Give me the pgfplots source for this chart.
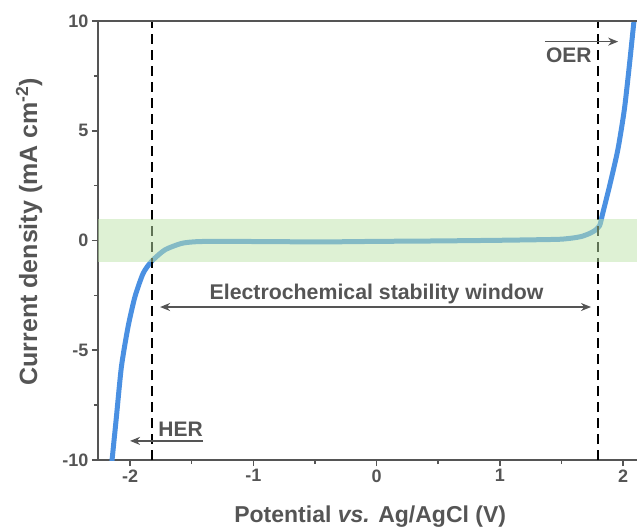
\documentclass[border=0pt]{standalone}
\usepackage{fontspec}
\setmainfont{Liberation Sans}
\usepackage{pgfplots}
\pgfplotsset{compat=1.18}
\usetikzlibrary{arrows.meta}
\definecolor{curveblue}{RGB}{74,144,226}
\definecolor{bandgreen}{RGB}{190,228,170}
\definecolor{axgray}{RGB}{85,85,85}

\begin{document}
\begin{tikzpicture}
\begin{axis}[
    scale only axis, width=539pt, height=439pt,
    xmin=-2.26, xmax=2.113, ymin=-10, ymax=10,
    axis x line*=bottom, axis y line*=left,
    axis line style={axgray, line width=1.6pt, -},
    xtick={-2,-1,0,1,2}, ytick={-10,-5,0,5,10},
    minor tick num=1,
    tick align=outside,
    major tick length=6pt, minor tick length=4pt,
    tick style={axgray, line width=1.6pt},
    /pgf/number format/assume math mode=true,
    ticklabel style={font=\bfseries\fontsize{18}{18}\selectfont, text=axgray},
    xlabel={Potential \textit{vs.} Ag/AgCl (V)},
    ylabel={Current density (mA cm\textsuperscript{-2})},
    xlabel style={at={(axis description cs:0.505,-0.13)}, anchor=center,
        font=\bfseries\fontsize{23}{23}\selectfont, text=axgray},
    ylabel style={at={(axis description cs:-0.128,0.52)}, anchor=center,
        font=\bfseries\fontsize{25}{25}\selectfont, text=axgray},
    ]
% J-V sweep
\addplot[curveblue, line width=5pt, smooth, tension=0.4] coordinates {
    (-2.155,-10.4) (-2.146,-10) (-2.11,-8.0) (-2.07,-5.75) (-2.016,-3.93)
    (-1.96,-2.56) (-1.894,-1.5) (-1.827,-0.96) (-1.718,-0.43) (-1.58,-0.13)
    (-1.447,-0.05) (-1.2,-0.04) (-0.9,-0.05) (-0.6,-0.06) (-0.34,-0.06)
    (0,-0.04) (0.5,-0.02) (1.0,0.01) (1.36,0.04) (1.50,0.06) (1.60,0.12)
    (1.66,0.18) (1.72,0.30) (1.77,0.45) (1.81,0.68) (1.835,1.24)
    (1.889,2.45) (1.957,4.12) (2.01,5.95) (2.05,7.92) (2.087,9.92) (2.10,10.5) };
% window limits
\addplot[black, line width=2pt, dash pattern=on 10pt off 6pt] coordinates {(-1.82,-10) (-1.82,10)};
\addplot[black, line width=2pt, dash pattern=on 10pt off 6pt] coordinates {(1.80,-10) (1.80,10)};
% +-1 mA band
\addplot[draw=none, fill=bandgreen, fill opacity=0.5] coordinates {
    (-2.26,-1) (2.113,-1) (2.113,1) (-2.26,1) } -- cycle;

\draw[axgray, line width=1.5pt, {Stealth[length=10pt,width=8pt]}-{Stealth[length=10pt,width=8pt]}]
    (axis cs:-1.756,-3.03) -- (axis cs:1.74,-3.03);
\node[anchor=base, inner sep=0pt, text=axgray, font=\bfseries\fontsize{21.3}{21.3}\selectfont]
    at (axis cs:0,-2.71) {Electrochemical stability window};

\draw[axgray, line width=1.5pt, -{Stealth[length=10pt,width=8pt]}]
    (axis cs:1.366,9.06) -- (axis cs:1.96,9.06);
\node[anchor=base west, inner sep=0pt, text=axgray, font=\bfseries\fontsize{21}{21}\selectfont]
    at (axis cs:1.374,8.13) {OER};

\draw[axgray, line width=1.5pt, -{Stealth[length=10pt,width=8pt]}]
    (axis cs:-1.407,-9.13) -- (axis cs:-2.0,-9.13);
\node[anchor=base west, inner sep=0pt, text=axgray, font=\bfseries\fontsize{21}{21}\selectfont]
    at (axis cs:-1.772,-8.95) {HER};

\draw[axgray, line width=1.6pt] (rel axis cs:0,1) -- (rel axis cs:1,1);
\end{axis}
\pgfresetboundingbox
\path (-98pt,-70pt) rectangle (539pt,460pt);
\end{tikzpicture}
\end{document}
